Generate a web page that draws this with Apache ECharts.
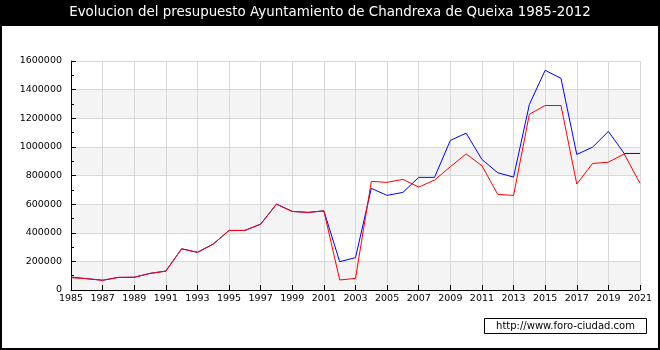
<!DOCTYPE html>
<html><head><meta charset="utf-8">
<script src="https://cdn.jsdelivr.net/npm/echarts@6/dist/echarts.min.js"></script>
<style>html,body{margin:0;padding:0;background:#fff}#c{width:660px;height:350px}</style>
</head><body><div id="c"></div>
<script>
var years = [];
for (var y = 1985; y <= 2021; y++) years.push(String(y));
var ingresos = [90000, 79000, 68000, 88000, 89000, 116000, 132000, 288000, 263000, 321000, 416000, 416000, 460000, 600000, 549000, 542000, 553000,
  198000, 226000, 710000, 661000, 682000, 787000, 787000, 1045000, 1096000, 912000, 819000, 789000, 1296000, 1535000, 1479000, 947000, 998000, 1108000, 954000, 954000];
var gastos = [86000, 79000, 68000, 88000, 89000, 116000, 132000, 288000, 263000, 321000, 416000, 416000, 460000, 600000, 549000, 542000, 553000,
  70000, 81000, 759000, 752000, 773000, 719000, 768000, 861000, 951000, 868000, 668000, 661000, 1228000, 1289000, 1289000, 740000, 884000, 893000, 951000, 745000];
var titleText = 'Evolucion del presupuesto Ayuntamiento de Chandrexa de Queixa 1985-2012';
var watermark = 'http://www.foro-ciudad.com';

var chart = echarts.init(document.getElementById('c'), null, {renderer: 'canvas'});
var font = 'DejaVu Sans';
chart.setOption({
  animation: false,
  backgroundColor: '#fff',
  grid: {left: 71, right: 20, top: 61, bottom: 60, containLabel: false},
  xAxis: {
    type: 'category', data: years, boundaryGap: false,
    axisLine: {lineStyle: {color: '#000', width: 1}},
    axisTick: {show: true, inside: true, length: 5, interval: 1, lineStyle: {color: '#000'}},
    axisLabel: {interval: 1, color: '#000', fontFamily: font, fontSize: 9.5, margin: 4},
    splitLine: {show: true, interval: 1, lineStyle: {color: '#d8d8d8', width: 1}}
  },
  yAxis: {
    type: 'value', min: 0, max: 1600000, interval: 200000,
    axisLine: {show: true, lineStyle: {color: '#000', width: 1}},
    axisTick: {show: true, inside: true, length: 5, lineStyle: {color: '#000'}},
    minorTick: {show: true, splitNumber: 2, length: 3, lineStyle: {color: '#000'}},
    axisLabel: {color: '#000', fontFamily: font, fontSize: 9.5, margin: 9, formatter: function (v) { return String(v); }},
    splitLine: {show: true, lineStyle: {color: '#d8d8d8', width: 1}},
    splitArea: {show: true, areaStyle: {color: ['#f4f4f4', '#ffffff']}}
  },
  series: [
    {type: 'line', data: ingresos, symbol: 'none', lineStyle: {color: '#0000ff', width: 1}, z: 2},
    {type: 'line', data: gastos, symbol: 'none', lineStyle: {color: '#ff0000', width: 1}, z: 3}
  ],
  graphic: [
    {type: 'rect', shape: {x: 0, y: 0, width: 660, height: 26}, style: {fill: '#000'}, z: 10},
    {type: 'text', x: 330, y: 13, style: {text: titleText, fill: '#fff', font: '13.4px "DejaVu Sans"', align: 'center', verticalAlign: 'middle'}, z: 11},
    {type: 'rect', shape: {x: 1, y: 1, width: 658, height: 348}, style: {fill: 'none', stroke: '#000', lineWidth: 2}, z: 10},
    {type: 'rect', shape: {x: 484.5, y: 318.5, width: 162, height: 15}, style: {fill: '#fff', stroke: '#000', lineWidth: 1}, z: 10},
    {type: 'text', x: 565.5, y: 326.5, style: {text: watermark, fill: '#000', font: '10px "DejaVu Sans"', align: 'center', verticalAlign: 'middle'}, z: 11}
  ]
});
</script></body></html>
